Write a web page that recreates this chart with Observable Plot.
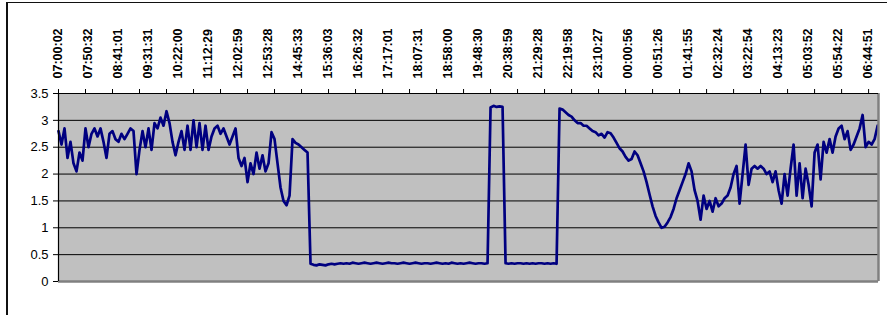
<!DOCTYPE html>
<html>
<head>
<meta charset="utf-8">
<script src="https://cdn.jsdelivr.net/npm/d3@7"></script>
<script src="https://cdn.jsdelivr.net/npm/@observablehq/plot@0.6"></script>
<style>
  html, body { margin: 0; padding: 0; background: #fff; overflow: hidden; }
  #wrap { position: relative; width: 887px; height: 315px; }
  #border { position: absolute; left: 6px; top: 2px; width: 1000px; height: 1000px;
            border-left: 2px solid #111; border-top: 1.5px solid #111; pointer-events: none; }
</style>
</head>
<body>
<div id="wrap"><div id="border"></div></div>
<script>
// Samples, one every ~3 px of the original chart (category rows)
const values = [
  2.8, 2.55, 2.85, 2.3, 2.6, 2.2, 2.05, 2.4, 2.25, 2.85,
  2.5, 2.75, 2.85, 2.7, 2.85, 2.6, 2.3, 2.75, 2.8, 2.65,
  2.6, 2.75, 2.65, 2.75, 2.85, 2.8, 2.0, 2.45, 2.8, 2.5,
  2.85, 2.45, 2.95, 2.85, 3.05, 2.9, 3.17, 2.95, 2.6, 2.35,
  2.6, 2.8, 2.45, 2.9, 2.45, 3.0, 2.5, 2.95, 2.45, 2.9,
  2.45, 2.7, 2.85, 2.9, 2.75, 2.85, 2.7, 2.55, 2.7, 2.85,
  2.3, 2.15, 2.3, 1.85, 2.2, 2.0, 2.4, 2.1, 2.35, 2.05,
  2.2, 2.78, 2.65, 2.2, 1.75, 1.5, 1.42, 1.6, 2.65, 2.58,
  2.55, 2.5, 2.45, 2.4,
  0.33, 0.31, 0.3, 0.32, 0.31, 0.3, 0.32, 0.33, 0.32, 0.33,
  0.34, 0.33, 0.34, 0.33, 0.35, 0.34, 0.33, 0.34, 0.35, 0.34,
  0.33, 0.34, 0.35, 0.34, 0.33, 0.34, 0.35, 0.34, 0.34, 0.33,
  0.34, 0.35, 0.34, 0.33, 0.34, 0.35, 0.34, 0.33, 0.34, 0.34,
  0.33, 0.34, 0.35, 0.34, 0.33, 0.34, 0.33, 0.35, 0.34, 0.33,
  0.34, 0.33, 0.34, 0.35, 0.34, 0.33, 0.34, 0.34, 0.33, 0.34,
  3.24, 3.27, 3.25, 3.26, 3.25,
  0.34, 0.33, 0.34, 0.33, 0.34, 0.34, 0.33, 0.34, 0.33, 0.34,
  0.33, 0.34, 0.34, 0.33, 0.34, 0.33, 0.34, 0.33,
  3.22, 3.2, 3.15, 3.1, 3.07, 3.0, 2.95, 2.95, 2.9, 2.9, 2.85, 2.8, 2.78,
  2.72, 2.75, 2.68, 2.78, 2.76, 2.68, 2.58, 2.48, 2.42, 2.32,
  2.25, 2.28, 2.42, 2.35, 2.2, 2.05, 1.85, 1.62, 1.4, 1.22,
  1.1, 1.0, 1.02, 1.1, 1.2, 1.35, 1.55, 1.7, 1.85, 2.0,
  2.2, 2.05, 1.7, 1.5, 1.15, 1.6, 1.35, 1.5, 1.3, 1.55,
  1.4, 1.45, 1.55, 1.6, 1.75, 2.0, 2.15, 1.45, 2.0, 2.55,
  1.8, 2.1, 2.15, 2.1, 2.15, 2.1, 2.0, 2.05, 1.85, 2.05,
  1.7, 1.45, 2.0, 1.6, 2.1, 2.55, 1.6, 2.2, 1.55, 2.1,
  1.8, 1.4, 2.4, 2.55, 1.9, 2.6, 2.4, 2.65, 2.4, 2.7,
  2.85, 2.9, 2.65, 2.8, 2.45, 2.55, 2.7, 2.85, 3.1, 2.5,
  2.6, 2.55, 2.65, 2.9
];

const timeLabels = [
  "07:00:02", "07:50:32", "08:41:01", "09:31:31", "10:22:00", "11:12:29", "12:02:59",
  "12:53:28", "14:45:33", "15:36:03", "16:26:32", "17:17:01", "18:07:31", "18:58:00",
  "19:48:30", "20:38:59", "21:29:28", "22:19:58", "23:10:27", "00:00:56", "00:51:26",
  "01:41:55", "02:32:24", "03:22:54", "04:13:23", "05:03:52", "05:54:22", "06:44:51"
];

const yTicks = [0, 0.5, 1, 1.5, 2, 2.5, 3, 3.5];
const rowsPerLabel = 10;
const rowsPerTick = 9;
const tickCount = 30;
const xMax = 273.3;

const rows = values.map((v, i) => ({i, v}));
const labelRows = timeLabels.map((t, k) => ({t, pos: k * rowsPerLabel}));
const tickPositions = d3.range(0, tickCount + 1).map(k => k * rowsPerTick);

const chart = Plot.plot({
  width: 887,
  height: 315,
  marginLeft: 58,
  marginRight: 9,
  marginTop: 93,
  marginBottom: 34,
  x: {domain: [0, xMax], axis: null},
  y: {domain: [0, 3.5], axis: null},
  style: {background: "transparent", fontFamily: "'Liberation Sans', Arial, sans-serif", color: "#000"},
  marks: [
    Plot.frame({fill: "#C0C0C0"}),
    Plot.ruleY(yTicks.filter(t => t > 0 && t < 3.5), {stroke: "#000", strokeWidth: 1}),
    Plot.line(rows, {x: "i", y: "v", stroke: "#000080", strokeWidth: 2.7, strokeLinejoin: "round"}),
    Plot.ruleY([0], {stroke: "#808080", strokeWidth: 2.5}),
    Plot.ruleX([xMax], {stroke: "#808080", strokeWidth: 2.5}),
    Plot.ruleX([0], {stroke: "#000", strokeWidth: 1.2}),
    Plot.ruleY([3.5], {stroke: "#000", strokeWidth: 1}),
    Plot.axisY({ticks: yTicks, tickSize: 5, tickPadding: 5, tickFormat: d => String(d),
                fontSize: 13, label: null, stroke: "#000"}),
    Plot.axisX({anchor: "top", ticks: tickPositions, tickSize: 5, tickFormat: () => "",
                label: null, stroke: "#000"}),
    Plot.text(labelRows, {x: "pos", text: "t", frameAnchor: "top", rotate: -90,
                textAnchor: "start", lineAnchor: "middle", dy: -15, dx: -1,
                fontSize: 12.5, fontWeight: "bold", fill: "#000"})
  ]
});

document.getElementById("wrap").prepend(chart);
</script>
</body>
</html>
